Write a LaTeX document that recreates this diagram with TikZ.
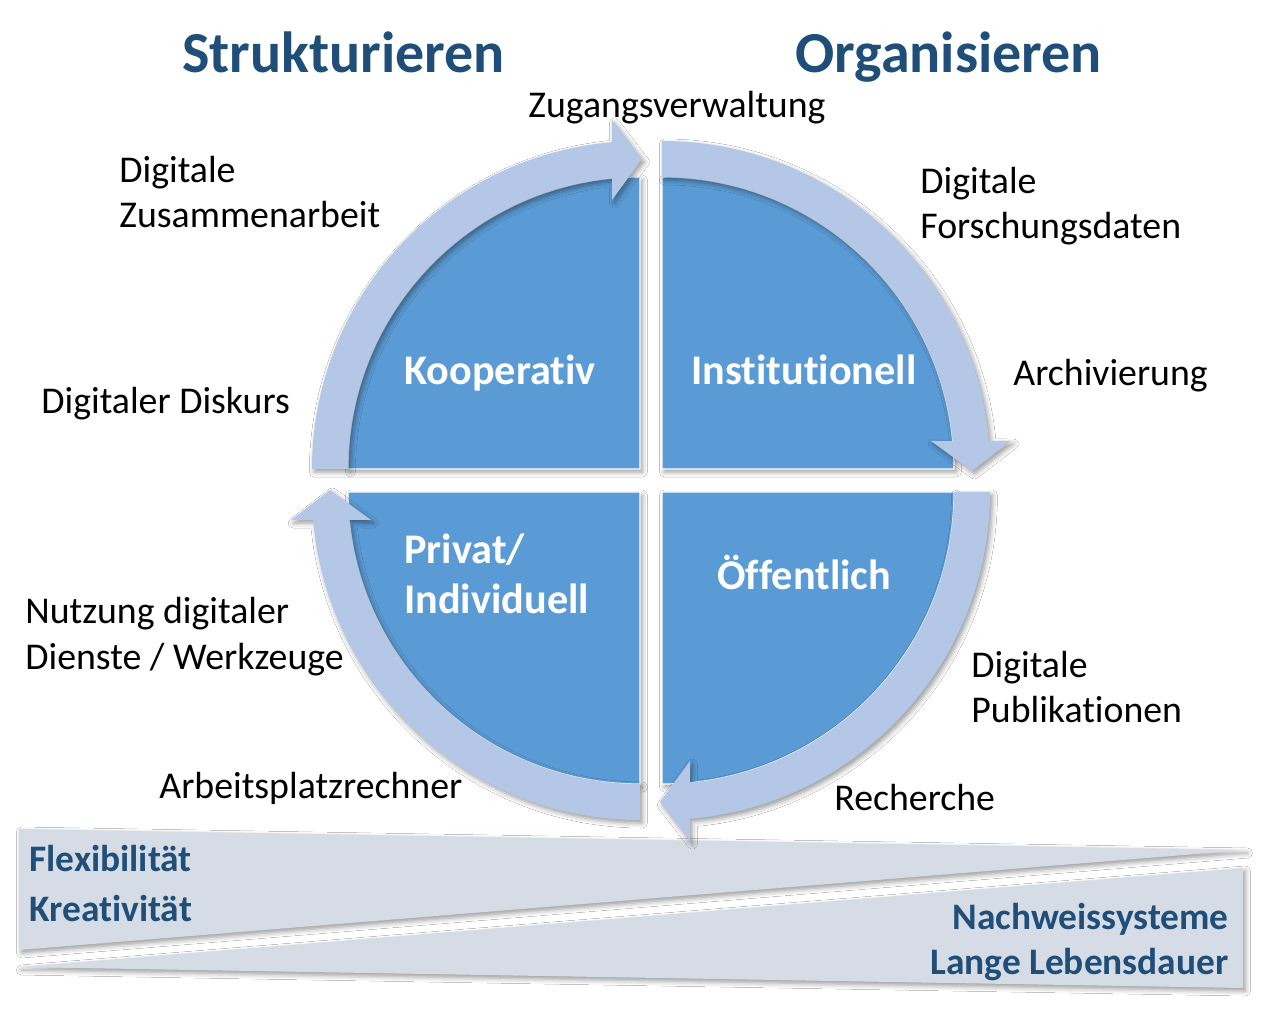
\documentclass[tikz,border=0pt]{standalone}
\usepackage{fontspec}
\setmainfont{Carlito}[Ligatures={NoCommon}]
\usetikzlibrary{shadows.blur}
\definecolor{quadblue}{HTML}{5B9BD5}
\definecolor{bandblue}{HTML}{B4C7E7}
\definecolor{wedgegray}{HTML}{D6DCE5}
\definecolor{darkblue}{HTML}{1F4E79}
\begin{document}
\begin{tikzpicture}[x=0.5pt,y=0.5pt,
  softshadow/.style={blur shadow={shadow xshift=1.2pt,shadow yshift=-1.5pt,shadow blur radius=2.5pt,shadow opacity=40}},
  quadrant/.style={fill=quadblue,draw=white,line width=0.6pt,softshadow},
  band/.style={fill=bandblue,softshadow},
  wedge/.style={fill=wedgegray,softshadow},
  lbl/.style={anchor=base west,inner sep=0pt,font=\fontsize{18.9}{22}\selectfont,text=black},
  qlbl/.style={anchor=base west,inner sep=0pt,font=\bfseries\fontsize{21.1}{25}\selectfont,text=white},
  title/.style={anchor=base west,inner sep=0pt,font=\bfseries\fontsize{29}{34}\selectfont,text=darkblue},
  blbl/.style={inner sep=0pt,font=\bfseries\fontsize{18.7}{22}\selectfont,text=darkblue},
]
\fill[white] (0,0) rectangle (1268,-1020);
\useasboundingbox (0,0) rectangle (1268,-1020);

% bottom wedges
\path[wedge] (19,-829) -- (1245,-850) -- (19,-950) -- cycle;
\path[wedge] (19,-967) -- (1243,-868) -- (1243,-988) -- cycle;

% top-left quadrant
\begin{scope}[shift={(640,-469)}]
  \path[quadrant] (0,0) -- (180:292) arc[start angle=180,end angle=90,radius=292] -- cycle;
  \path[band] (180:328) arc[start angle=180,end angle=94.9,radius=328] -- (-28,349) -- (2,310) -- (-28,269) -- (95.5:292) arc[start angle=95.5,end angle=180,radius=292] -- cycle;
\end{scope}
% top-right quadrant
\begin{scope}[shift={(662,-469)}]
  \path[quadrant] (0,0) -- (90:292) arc[start angle=90,end angle=0,radius=292] -- cycle;
  \path[band] (90:328) arc[start angle=90,end angle=4.9,radius=328] -- (349,28) -- (310,-2) -- (269,28) -- (5.5:292) arc[start angle=5.5,end angle=90,radius=292] -- cycle;
\end{scope}
% bottom-right quadrant
\begin{scope}[shift={(662,-492)}]
  \path[quadrant] (0,0) -- (0:292) arc[start angle=0,end angle=-90,radius=292] -- cycle;
  \path[band] (0:328) arc[start angle=0,end angle=-85.1,radius=328] -- (28,-349) -- (-2,-310) -- (28,-269) -- (-84.5:292) arc[start angle=-84.5,end angle=0,radius=292] -- cycle;
\end{scope}
% bottom-left quadrant
\begin{scope}[shift={(640,-492)}]
  \path[quadrant] (0,0) -- (270:292) arc[start angle=270,end angle=180,radius=292] -- cycle;
  \path[band] (270:328) arc[start angle=270,end angle=184.9,radius=328] -- (-349,-28) -- (-310,2) -- (-269,-28) -- (185.5:292) arc[start angle=185.5,end angle=270,radius=292] -- cycle;
\end{scope}

% titles
\node[title] (t1) at (182,-73) {Strukturieren};
\node[title] (t2) at (795,-73) {Organisieren};

% quadrant labels
\node[qlbl] (q1) at (404,-385) {Kooperativ};
\node[qlbl] (q2) at (691,-385) {Institutionell};
\node[qlbl] (q3a) at (404,-564) {Privat/};
\node[qlbl] (q3b) at (404,-614) {Individuell};
\node[qlbl] (q4) at (717,-590) {Öffentlich};

% outer labels
\node[lbl] (l1) at (528,-118) {Zugangsverwaltung};
\node[lbl] (l2a) at (119,-183) {Digitale};
\node[lbl] (l2b) at (119,-228) {Zusammenarbeit};
\node[lbl] (l3a) at (920,-194) {Digitale};
\node[lbl] (l3b) at (920,-239) {Forschungsdaten};
\node[lbl] (l4) at (1013,-386) {Archivierung};
\node[lbl] (l5) at (41,-414) {Digitaler Diskurs};
\node[lbl] (l6a) at (25,-624) {Nutzung digitaler};
\node[lbl] (l6b) at (25,-669) {Dienste / Werkzeuge};
\node[lbl] (l7a) at (971,-677) {Digitale};
\node[lbl] (l7b) at (971,-722) {Publikationen};
\node[lbl] (l8) at (159,-798) {Arbeitsplatzrechner};
\node[lbl] (l9) at (834,-810) {Recherche};

% bottom labels
\node[blbl,anchor=base west] (b1) at (29,-871) {Flexibilität};
\node[blbl,anchor=base west] (b2) at (29,-921) {Kreativität};
\node[blbl,anchor=base east] (b3) at (1229,-929) {Nachweissysteme};
\node[blbl,anchor=base east] (b4) at (1229,-974) {Lange Lebensdauer};
\end{tikzpicture}
\end{document}
